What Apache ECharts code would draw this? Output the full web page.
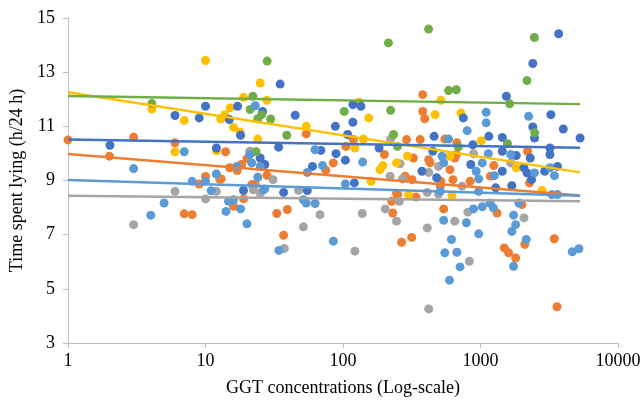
<!DOCTYPE html>
<html>
<head>
<meta charset="utf-8">
<script src="https://cdn.jsdelivr.net/npm/echarts@6/dist/echarts.min.js"></script>
<style>
html, body { margin: 0; padding: 0; background: #fff; }
#Chart { width: 644px; height: 403px; }
</style>
</head>
<body>
<div id="Chart"></div>
<script>
var Chart = echarts.init(document.getElementById('Chart'));

// points: [GGT, hours lying]
var orangePts = [[1,10.5],[2,9.9],[3,10.6],[6,10.39],[7,7.77],[8,7.74],[9,8.87],[10,9.15],[12.7,9.05],[13,9.06],[14,10.06],[15,9.47],[16,8.05],[17,9.37],[18.3,9.59],[18.9,8.32],[20,9.81],[21.7,8.85],[23,8.85],[28,9.19],[33,7.78],[37,6.98],[39.4,7.93],[54,10.72],[75,9.38],[85,9.65],[105,10.26],[119,10.51],[200,9.96],[226,8.23],[230,7.8],[245,8.52],[250,8.48],[267,6.72],[283,9.16],[290,10.51],[316,6.9],[318,9.03],[325,9.83],[340,8.39],[364,10.51],[380,12.17],[380,11.55],[393,11.28],[420,9.77],[430,9.65],[510,8.79],[515,8.97],[540,7.95],[550,10.53],[600,9.4],[630,9.03],[650,9.83],[667,9.96],[673,10.39],[840,8.97],[1180,9.16],[1250,9.55],[1320,7.8],[1490,6.51],[1600,6.33],[1800,6.14],[2000,8.11],[2100,6.64],[2200,10.08],[2270,8.91],[3440,6.85],[3600,4.34]];
var grayPts = [[3,7.37],[6,8.6],[10,8.32],[12,8.6],[21,10.08],[22.3,8.66],[25,8.52],[31,9.03],[37.4,6.49],[47.5,8.64],[51.5,7.29],[68,7.74],[122,6.39],[138,7.78],[203,7.95],[220,9.16],[222,10.53],[245,7.5],[257,8.23],[260,9.62],[271,9.06],[410,7.25],[410,8.56],[420,9.3],[420,4.26],[495,9.52],[495,8.5],[650,7.5],[735,8.79],[810,7.83],[830,6.02],[890,9.99],[1660,9.65],[2070,7.62]];
var yellowPts = [[4.07,11.64],[6,10.06],[7,11.22],[10,13.43],[12,10.1],[12.9,11.27],[13.8,11.43],[15.1,11.68],[16,10.96],[17.8,10.79],[18.9,12.07],[24,10.53],[25,12.6],[28,11.96],[54,11.0],[122,10.2],[131,11.89],[141,10.53],[154,11.31],[160,8.97],[186,9.4],[195,9.55],[245,9.65],[294,9.9],[300,8.45],[467,11.43],[515,11.96],[600,9.9],[620,8.44],[720,11.49],[1015,10.47],[1820,9.47],[2800,8.63]];
var darkBluePts = [[2.02,10.3],[6,11.4],[9,11.31],[10,11.74],[12,10.2],[14.9,11.25],[17.1,11.74],[18,10.67],[18.9,8.63],[25,9.83],[26,11.55],[27,9.59],[34,10.23],[34.9,12.56],[37,8.56],[44.9,11.41],[55,8.63],[60,9.52],[69,10.11],[88,11.0],[89,9.99],[104,9.75],[108,10.7],[118,11.15],[118,11.8],[121,8.91],[135,11.74],[183,10.2],[375,9.34],[450,10.08],[460,10.63],[480,9.1],[750,11.31],[850,9.59],[880,10.32],[1150,10.63],[1290,8.73],[1440,10.59],[1440,10.08],[1440,9.34],[1542,12.11],[1690,8.81],[1820,9.92],[2070,9.47],[2180,9.28],[2300,9.83],[2350,9.03],[2400,13.32],[2400,10.98],[2470,10.57],[2930,9.34],[3200,10.2],[3200,9.96],[3250,11.43],[3630,9.52],[3700,14.42],[4000,10.9],[5300,10.57]];
var greenPts = [[4.07,11.84],[21.1,11.62],[22.1,12.11],[23.3,10.06],[24,11.28],[25.6,11.43],[28.1,13.41],[29.8,11.27],[39,10.67],[102,11.55],[214,14.08],[222,11.59],[233,10.7],[249,10.26],[419,14.59],[586,12.32],[667,12.35],[690,10.24],[1570,10.36],[1630,11.83],[2178,12.69],[2465,14.28],[2480,10.76]];
var lightBluePts = [[3,9.44],[4,7.72],[5,8.17],[7,10.06],[8,8.97],[10,8.97],[11,8.62],[12,9.24],[14.1,7.86],[14.7,8.23],[16,8.29],[16.9,9.52],[18,7.95],[20,7.4],[21,9.96],[21.7,9.65],[23,11.76],[24,9.12],[25,9.52],[26.4,8.66],[27,8.69],[34.2,6.42],[51.5,8.29],[54,8.17],[55,9.3],[62.6,10.14],[62.7,8.15],[71,9.55],[85,6.76],[104,8.87],[139,9.68],[510,8.6],[525,9.9],[540,9.65],[540,7.53],[550,6.33],[585,10.53],[595,5.32],[615,6.82],[673,6.35],[710,5.81],[790,7.44],[800,10.84],[890,7.95],[930,9.34],[970,9.06],[970,8.6],[970,7.03],[1030,9.65],[1030,8.03],[1100,11.52],[1100,11.13],[1140,9.99],[1170,8.17],[1240,7.99],[1260,9.18],[1660,9.96],[1690,7.12],[1740,7.72],[1740,5.83],[1800,7.37],[1900,8.17],[2150,6.82],[2240,11.37],[2470,9.28],[3200,9.47],[3300,8.48],[3450,9.18],[3630,8.48],[4650,6.37],[5200,6.48]];

// log trendlines, start and end
var orangeTrend = [[1,9.98],[5300,8.45]];
var grayTrend = [[1,8.44],[5300,8.23]];
var yellowTrend = [[1,12.26],[5300,9.3]];
var darkBlueTrend = [[1,10.51],[5300,10.21]];
var greenTrend = [[1,12.12],[5300,11.82]];
var lightBlueTrend = [[1,9.02],[5300,8.44]];

var xTicks = [1, 10, 100, 1000, 10000];

var groups = [
    {name: 'Orange', color: '#ED7D31', pts: orangePts, trend: orangeTrend},
    {name: 'Gray', color: '#A5A5A5', pts: grayPts, trend: grayTrend},
    {name: 'Yellow', color: '#FFC000', pts: yellowPts, trend: yellowTrend},
    {name: 'Dark blue', color: '#4472C4', pts: darkBluePts, trend: darkBlueTrend},
    {name: 'Green', color: '#70AD47', pts: greenPts, trend: greenTrend},
    {name: 'Light blue', color: '#5B9BD5', pts: lightBluePts, trend: lightBlueTrend}
];

var series = [];
groups.forEach(function (g) {
    series.push({
        name: g.name,
        type: 'scatter',
        symbolSize: 9,
        itemStyle: {color: g.color, opacity: 1},
        data: g.pts,
        z: 2
    });
});
groups.forEach(function (g) {
    series.push({
        name: g.name + ' trend',
        type: 'line',
        showSymbol: false,
        lineStyle: {color: g.color, width: 2.5},
        data: g.trend,
        z: 3
    });
});

var fontFam = '"Liberation Serif", "Times New Roman", serif';

var option = {
    animation: false,
    grid: {left: 68, right: 26, top: 18, bottom: 60},
    xAxis: {
        type: 'log',
        logBase: 10,
        min: xTicks[0],
        max: xTicks[xTicks.length - 1],
        name: 'GGT concentrations (Log-scale)',
        nameLocation: 'middle',
        nameGap: 36,
        nameTextStyle: {fontFamily: fontFam, fontSize: 18, color: '#000'},
        axisLine: {lineStyle: {color: '#BFBFBF', width: 1}},
        axisTick: {show: true, length: 5, lineStyle: {color: '#BFBFBF'}},
        minorTick: {show: false},
        splitLine: {show: false},
        axisLabel: {
            fontFamily: fontFam, fontSize: 18, color: '#000', margin: 9,
            formatter: function (v) { return String(Math.round(v)); }
        }
    },
    yAxis: {
        type: 'value',
        min: 3,
        max: 15,
        interval: 2,
        name: 'Time spent lying (h/24 h)',
        nameLocation: 'middle',
        nameGap: 42,
        nameTextStyle: {fontFamily: fontFam, fontSize: 18, color: '#000'},
        axisLine: {show: true, lineStyle: {color: '#BFBFBF', width: 1}},
        axisTick: {show: true, length: 5, lineStyle: {color: '#BFBFBF'}},
        splitLine: {show: false},
        axisLabel: {fontFamily: fontFam, fontSize: 18, color: '#000', margin: 13}
    },
    series: series
};

Chart.setOption(option);
</script>
</body>
</html>
